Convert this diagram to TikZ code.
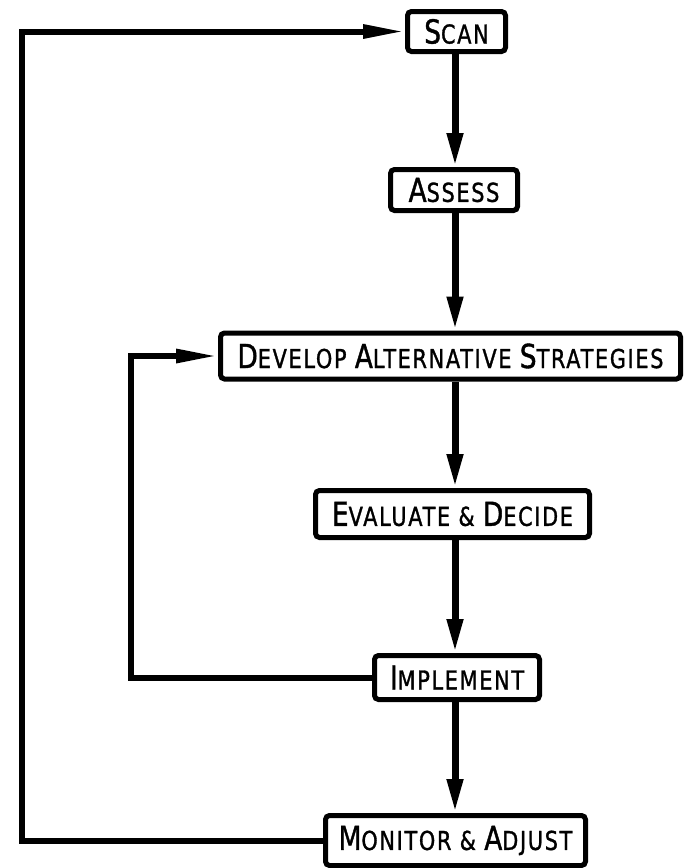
\documentclass[tikz,border=0pt]{standalone}
\usepackage{fontspec}
\usetikzlibrary{arrows.meta,calc}
\newfontfamily\labfont[FakeStretch=0.8,LetterSpace=6.5,FakeBold=1.2]{DejaVu Sans}
\newcommand{\Bc}[1]{{\fontsize{33}{34}\selectfont #1}}
\newcommand{\Sc}[1]{{\fontsize{26}{34}\selectfont #1}}
\tikzset{
  box/.style={draw, line width=5pt, rounded corners=4pt, inner sep=0pt,
    align=center, font=\labfont},
  mainarrow/.style={line width=7pt, -{Triangle[length=34pt,width=15pt]}},
  fbarrow/.style={line width=6pt, -{Triangle[length=42pt,width=13pt]}}
}
\begin{document}
\begin{tikzpicture}[x=1pt,y=-1pt]
\useasboundingbox (0,0) rectangle (687,868);
\node[box, minimum width=98pt, minimum height=40pt] (scan) at (456.5,31.5) {\Bc{S}\Sc{CAN}};
\node[box, minimum width=127pt, minimum height=41pt] (assess) at (454,190) {\Bc{A}\Sc{SSESS}};
\node[box, minimum width=460pt, minimum height=46pt] (dev) at (450.5,356) {\Bc{D}\Sc{EVELOP }\Bc{A}\Sc{LTERNATIVE }\Bc{S}\Sc{TRATEGIES}};
\node[box, minimum width=274pt, minimum height=47pt] (eval) at (452.5,514) {\Bc{E}\Sc{VALUATE \& }\Bc{D}\Sc{ECIDE}};
\node[box, minimum width=165pt, minimum height=44pt] (impl) at (457,677.5) {\Bc{I}\Sc{MPLEMENT}};
\node[box, minimum width=260pt, minimum height=50pt] (mon) at (455.5,840.5) {\Bc{M}\Sc{ONITOR \& }\Bc{A}\Sc{DJUST}};
\coordinate (c1) at (131,500);
\coordinate (c2) at (22,400);
\coordinate (ax) at (455,0);
\draw[mainarrow] (scan.south -| ax) -- (assess.north -| ax);
\draw[mainarrow] (assess.south -| ax) -- (dev.north -| ax);
\draw[mainarrow] (dev.south -| ax) -- (eval.north -| ax);
\draw[mainarrow] (eval.south -| ax) -- (impl.north -| ax);
\draw[mainarrow] (impl.south -| ax) -- (mon.north -| ax);
\draw[fbarrow] (impl.west) -- (impl.west -| c1) |- (dev.west);
\draw[fbarrow] (mon.west) -- (mon.west -| c2) |- (scan.west);
\end{tikzpicture}
\end{document}
